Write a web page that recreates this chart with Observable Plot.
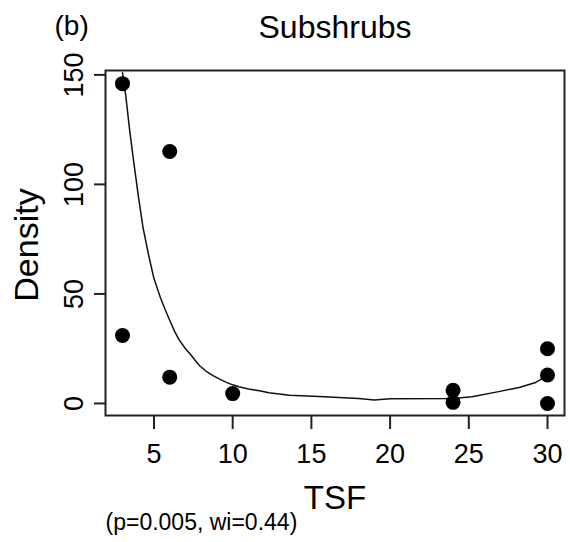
<!DOCTYPE html>
<html>
<head>
<meta charset="utf-8">
<script src="https://cdn.jsdelivr.net/npm/d3@7"></script>
<script src="https://cdn.jsdelivr.net/npm/@observablehq/plot@0.6"></script>
<style>
  html, body { margin: 0; padding: 0; background: white; }
</style>
</head>
<body>
<div id="chart"></div>
<script>
// Observed points (TSF vs Density)
const tsf = [3, 3, 6, 6, 10, 24, 24, 30, 30, 30];
const density = [146, 31, 115, 12, 4.5, 6, 0.5, 25, 13, 0];

// Fitted curve
const fitX = [3, 3.2, 3.45, 3.7, 4.0, 4.3, 4.65, 5.0, 5.4, 5.7, 6.0, 6.3, 6.6, 7.0, 7.3, 7.6, 7.9, 8.3, 8.75, 9.2, 9.6, 10.0, 10.4, 11.0, 11.7, 12.3, 13.6, 15.5, 18, 19, 20, 24, 25.2, 26.9, 28.2, 29.25, 30];
const fitY = [151, 141, 125, 111, 95, 80.5, 68, 57, 48.5, 43, 38, 33, 29, 25, 22.6, 19.8, 17.2, 14.8, 12.7, 11, 9.6, 8.5, 7.6, 6.6, 5.8, 4.9, 3.7, 3.2, 2.3, 1.6, 2.2, 2.3, 3.1, 5.4, 7.3, 9.6, 12.7];

const xTicks = [5, 10, 15, 20, 25, 30];
const yTicks = [0, 50, 100, 150];

const title = "Subshrubs";
const panel = "(b)";
const xLabel = "TSF";
const yLabel = "Density";
const note = "(p=0.005, wi=0.44)";

const points = tsf.map((x, i) => ({x, y: density[i]}));
const fit = fitX.map((x, i) => ({x, y: fitY[i]}));

const font = "'Liberation Sans', Arial, sans-serif";

const chart = Plot.plot({
  width: 570,
  height: 542,
  marginLeft: 105,
  marginRight: 6,
  marginTop: 70,
  marginBottom: 127,
  style: {fontFamily: font, fontSize: "27px", background: "white", color: "black"},
  x: {domain: [1.92, 31.08]},
  y: {domain: [-5.5, 152]},
  marks: [
    Plot.axisX({ticks: xTicks, tickSize: 14, tickPadding: 14, fontSize: 27, label: null, stroke: "#222", strokeWidth: 2}),
    Plot.axisY({ticks: yTicks, tickSize: 11, tickFormat: () => "", label: null, stroke: "#222", strokeWidth: 2}),
    Plot.text(yTicks, {y: d => d, frameAnchor: "left", text: d => String(d), rotate: -90, lineAnchor: "bottom", textAnchor: "middle", dx: -23, fontSize: 27, fill: "black"}),
    Plot.line(fit, {x: "x", y: "y", stroke: "#111", strokeWidth: 1.5}),
    Plot.dot(points, {x: "x", y: "y", r: 7.5, fill: "black", stroke: null}),
    Plot.frame({stroke: "#222", strokeWidth: 2}),
    Plot.text([title], {frameAnchor: "top", lineAnchor: "bottom", dy: -33, fontSize: 32, fill: "black"}),
    Plot.text([panel], {frameAnchor: "top-left", textAnchor: "start", lineAnchor: "bottom", dx: -51, dy: -36, fontSize: 28, fill: "black"}),
    Plot.text([xLabel], {frameAnchor: "bottom", lineAnchor: "bottom", dy: 93, fontSize: 33, fill: "black"}),
    Plot.text([yLabel], {frameAnchor: "left", rotate: -90, lineAnchor: "bottom", textAnchor: "middle", dx: -68, dy: 2, fontSize: 34, fill: "black"}),
    Plot.text([note], {frameAnchor: "bottom-left", textAnchor: "start", lineAnchor: "bottom", dy: 114, fontSize: 23, fill: "black"})
  ]
});
document.getElementById("chart").appendChild(chart);
</script>
</body>
</html>
